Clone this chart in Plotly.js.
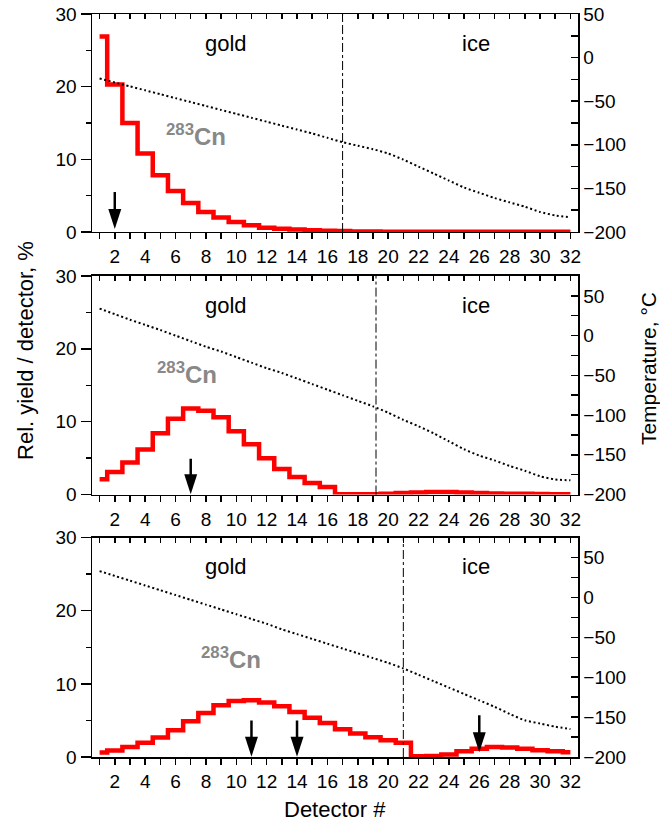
<!DOCTYPE html>
<html><head><meta charset="utf-8">
<script src="https://cdn.plot.ly/plotly-3.0.1.min.js"></script>
<style>html,body{margin:0;padding:0;background:#fff}#chart{width:660px;height:822px}</style>
</head><body><div id="chart"></div>
<script>
// ---- data ----
const detectors = [1,2,3,4,5,6,7,8,9,10,11,12,13,14,15,16,17,18,19,20,21,22,23,24,25,26,27,28,29,30,31,32];
const xTickVals = [2,4,6,8,10,12,14,16,18,20,22,24,26,28,30,32];
const xTickText = ['2','4','6','8','10','12','14','16','18','20','22','24','26','28','30','32'];

const yield1 = [26.9,20.3,15.0,10.8,7.8,5.65,4.0,2.76,1.98,1.38,0.92,0.6,0.45,0.35,0.25,0.18,0.12,0.08,0.06,0.05,0.05,0.05,0.05,0.05,0.05,0.05,0.05,0.05,0.05,0.05,0.05,0.05];
const temp1 = [-24,-28.5,-33,-37.5,-42,-46.5,-51,-55.5,-60,-64.5,-69,-73.5,-78,-82.5,-87,-92,-97,-101,-105,-110,-117,-125,-133,-141,-149,-155,-161,-166,-171,-177,-181,-183];

const yield2 = [2.1,3.1,4.4,6.2,8.4,10.4,11.8,11.5,10.6,8.7,6.9,5.0,3.5,2.4,1.6,1.05,0.05,0.05,0.05,0.1,0.2,0.3,0.35,0.35,0.3,0.2,0.15,0.1,0.1,0.08,0.05,0.05];
const temp2 = [34,27,20,13.5,7,0,-7,-14,-20,-27,-34,-41,-47,-54,-61,-68,-75,-82,-89,-97,-106,-114,-123,-133,-143,-151,-157,-164,-170,-177,-181,-182];

const yield3 = [0.6,0.9,1.37,1.96,2.65,3.65,4.9,6.0,7.07,7.66,7.75,7.44,6.93,6.15,5.38,4.65,3.8,3.2,2.7,2.3,1.95,0.1,0.15,0.35,0.78,1.14,1.37,1.3,1.14,0.91,0.78,0.64];
const temp3 = [33,27,21,15,9,3,-3,-9,-15,-21,-27,-33,-40,-46,-52,-58,-64,-70,-76,-82,-89,-97,-105,-113,-121,-129,-137,-146,-154,-158,-162,-165];

const boundaries = [17, 19.2, 21];          // gold / ice border per panel
const arrowX1 = [2], arrowTail1 = [5.5], arrowTip1 = [0.4];
const arrowX2 = [7], arrowTail2 = [4.9], arrowTip2 = [0.05];
const arrowX3 = [11, 14, 26], arrowTail3 = [5.0, 5.0, 5.7], arrowTip3 = [0.05, 0.05, 0.65];
const tempTop = [50, 75, 75];

// ---- layout helpers ----
const FONT = 'Liberation Sans, Arial, sans-serif';
const domains = [[0.7066, 1], [0.3532, 0.6474], [0, 0.2953]];

function xBottom(anchor) {
  return {domain:[0,1], range:[0.5,32.5], anchor:anchor, tickmode:'array', tickvals:xTickVals, ticktext:xTickText,
    ticks:'outside', ticklen:6, tickwidth:1.5, tickcolor:'#000',
    minor:{tickvals:detectors, ticks:'outside', ticklen:6, tickwidth:1.5, tickcolor:'#000'},
    showline:true, linecolor:'#000', linewidth:1.5,
    showgrid:false, zeroline:false, tickfont:{size:19, color:'#000', family:FONT}, ticklabelstandoff:1};
}
function xTop(over, anchor) {
  return {overlaying:over, side:'top', anchor:anchor, range:[0.5,32.5], tickmode:'array', tickvals:detectors,
    ticks:'inside', ticklen:5, tickwidth:1.5, tickcolor:'#000', showticklabels:false, showline:true, linecolor:'#000',
    linewidth:1.5, showgrid:false, zeroline:false};
}
function yLeft(dom, anchor) {
  return {domain:dom, anchor:anchor, range:[0,30], tickmode:'linear', tick0:0, dtick:10, ticks:'outside', ticklen:10,
    tickwidth:1.5, tickcolor:'#000', minor:{tick0:0, dtick:5, ticks:'outside', ticklen:5, tickwidth:1.5, tickcolor:'#000'},
    showline:true, linecolor:'#000', linewidth:1.5, showgrid:false, zeroline:false,
    tickfont:{size:19, color:'#000', family:FONT}};
}
function yRight(over, anchor, top) {
  return {overlaying:over, side:'right', anchor:anchor, range:[-200, top], tickmode:'linear', tick0:-200, dtick:50,
    ticks:'inside', ticklen:7, tickwidth:1.5, tickcolor:'#000',
    minor:{tick0:-200, dtick:25, ticks:'inside', ticklen:7, tickwidth:1.5, tickcolor:'#000'},
    showline:true, linecolor:'#000', linewidth:1.5, showgrid:false, zeroline:false,
    tickfont:{size:19, color:'#000', family:FONT}};
}

const yields = [yield1, yield2, yield3];
const temps = [temp1, temp2, temp3];
const arrows = [[arrowX1, arrowTail1, arrowTip1], [arrowX2, arrowTail2, arrowTip2], [arrowX3, arrowTail3, arrowTip3]];
const cnPos = [[7.36, 13.4], [6.73, 16.7], [9.63, 13.6]];

const traces = [];
const layout = {
  width:660, height:822, margin:{l:92, r:82, t:14, b:65}, showlegend:false,
  paper_bgcolor:'#fff', plot_bgcolor:'#fff', font:{family:FONT, color:'#000'},
  shapes:[], annotations:[]
};

for (let p = 0; p < 3; p++) {
  const xb = 'x' + (p === 0 ? '' : (2*p+1));
  const xt = 'x' + (2*p+2);
  const yl = 'y' + (p === 0 ? '' : (2*p+1));
  const yr = 'y' + (2*p+2);
  const xbName = 'xaxis' + (p === 0 ? '' : (2*p+1));
  const ylName = 'yaxis' + (p === 0 ? '' : (2*p+1));
  layout[xbName] = xBottom(yl);
  layout['xaxis' + (2*p+2)] = xTop(xb, yl);
  layout[ylName] = yLeft(domains[p], xb);
  layout['yaxis' + (2*p+2)] = yRight(yl, xb, tempTop[p]);

  traces.push({x:detectors, y:temps[p], xaxis:xt, yaxis:yr, type:'scatter', mode:'lines',
    line:{color:'#000', width:2, dash:'2px,2.6px', shape:'spline', smoothing:0.6}, hoverinfo:'skip'});
  traces.push({x:detectors, y:yields[p], xaxis:xb, yaxis:yl, type:'scatter', mode:'lines',
    line:{color:'#ff0000', width:4.5, shape:'hvh'}, hoverinfo:'skip'});

  layout.shapes.push({type:'line', xref:xb, yref:yl + ' domain', x0:boundaries[p], x1:boundaries[p], y0:0, y1:1,
    line:{color:'#000', width:1, dash:'dashdot'}});

  layout.annotations.push({xref:xb, yref:yl, x:9.3, y:26, text:'gold', showarrow:false,
    font:{size:22, color:'#000', family:FONT}});
  layout.annotations.push({xref:xb, yref:yl, x:25.8, y:26, text:'ice', showarrow:false,
    font:{size:22, color:'#000', family:FONT}});
  layout.annotations.push({xref:xb, yref:yl, x:cnPos[p][0], y:cnPos[p][1], text:'<b><sup>283</sup>Cn</b>', showarrow:false,
    font:{size:24, color:'#888888', family:FONT}});

  // arrows: shaft + arrow-shaped marker whose tip sits at the given point
  const [ax, tails, tips] = arrows[p];
  for (let i = 0; i < ax.length; i++) {
    traces.push({x:[ax[i], ax[i]], y:[tails[i], tips[i] + 1.5], xaxis:xb, yaxis:yl, type:'scatter', mode:'lines',
      line:{color:'#000', width:2.5}, hoverinfo:'skip'});
    traces.push({x:[ax[i]], y:[tips[i]], xaxis:xb, yaxis:yl, type:'scatter', mode:'markers',
      marker:{symbol:'arrow', angle:180, size:21, color:'#000', line:{width:0}}, hoverinfo:'skip'});
  }
}

layout.annotations.push({xref:'paper', yref:'paper', x:-0.1364, y:0.5474, xanchor:'center', yanchor:'middle',
  text:'Rel. yield / detector, %', textangle:-90, showarrow:false, font:{size:22, color:'#000', family:FONT}});
layout.annotations.push({xref:'paper', yref:'paper', x:1.1455, y:0.523, xanchor:'center', yanchor:'middle',
  text:'Temperature, °C', textangle:-90, showarrow:false, font:{size:21, color:'#000', family:FONT}});
layout.annotations.push({xref:'paper', yref:'paper', x:0.5, y:-0.0713, xanchor:'center', yanchor:'middle', text:'Detector #',
  showarrow:false, font:{size:22, color:'#000', family:FONT}});

Plotly.newPlot('chart', traces, layout, {displayModeBar:false, staticPlot:true});
</script>
</body></html>
